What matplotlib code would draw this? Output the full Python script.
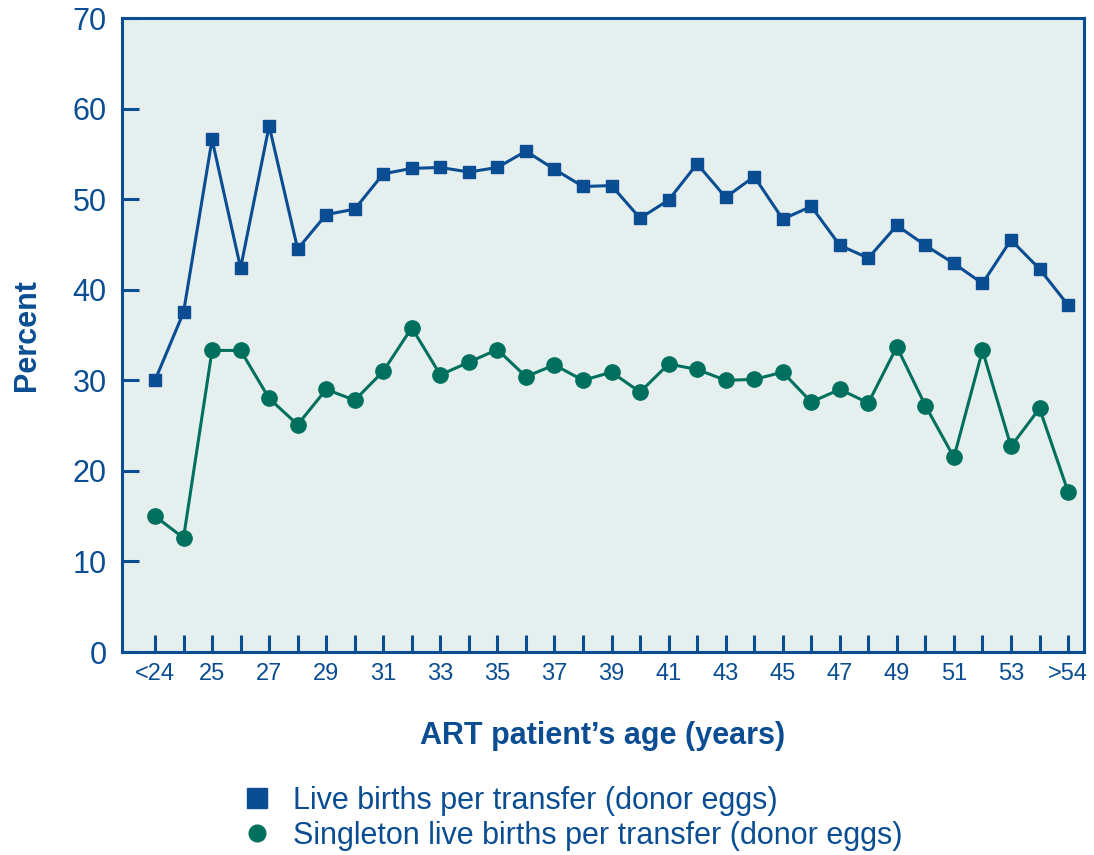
import matplotlib
matplotlib.use("Agg")
import matplotlib.pyplot as plt
from matplotlib.lines import Line2D

plt.rcParams['font.family'] = ['Liberation Sans', 'DejaVu Sans']

ages = ['<24', '24', '25', '26', '27', '28', '29', '30', '31', '32', '33',
        '34', '35', '36', '37', '38', '39', '40', '41', '42', '43', '44',
        '45', '46', '47', '48', '49', '50', '51', '52', '53', '54', '>54']

live_births = [30.0, 37.5, 56.6, 42.4, 58.1, 44.5, 48.3, 48.9, 52.8, 53.4, 53.5,
               53.0, 53.5, 55.3, 53.3, 51.4, 51.5, 47.9, 49.9, 53.9, 50.2, 52.5,
               47.8, 49.2, 44.9, 43.5, 47.1, 44.9, 42.9, 40.7, 45.5, 42.3, 38.3]

singleton = [15.0, 12.6, 33.3, 33.3, 28.0, 25.1, 29.0, 27.8, 31.0, 35.8, 30.6,
             32.0, 33.4, 30.4, 31.7, 30.0, 30.9, 28.7, 31.8, 31.2, 30.0, 30.1,
             30.9, 27.6, 29.0, 27.5, 33.7, 27.2, 21.5, 33.3, 22.7, 26.9, 17.7]

blue = '#0A4D92'
green = '#00705E'
bg = '#E5EFEE'

fig = plt.figure(figsize=(10.94, 8.55), dpi=100)
ax = fig.add_axes([0.1115, 0.2374, 0.8794, 0.7415])
ax.set_facecolor(bg)

x = list(range(len(ages)))
ax.plot(x, live_births, color=blue, lw=2.2, marker='s', ms=8.5, zorder=3)
ax.plot(x, singleton, color=green, lw=2.2, marker='o', ms=11, zorder=3)

ax.set_xlim(-1.157, 32.56)
ax.set_ylim(0, 70)
ax.set_yticks(range(0, 71, 10))
ax.set_xticks(x)
ax.set_xticklabels([a if i % 2 == 0 else '' for i, a in enumerate(ages)])

for s in ax.spines.values():
    s.set_color(blue)
    s.set_linewidth(2.2)

ax.tick_params(axis='y', direction='in', length=12, width=2.2, color=blue,
               labelcolor=blue, labelsize=22, pad=11)
ax.tick_params(axis='x', direction='in', length=12, width=2.2, color=blue,
               labelcolor=blue, labelsize=17, pad=8)

ax.set_xlabel('ART patient\u2019s age (years)', fontsize=22, fontweight='bold',
              color=blue, labelpad=26)
ax.set_ylabel('Percent', fontsize=22, fontweight='bold', color=blue, labelpad=22)

handles = [
    Line2D([], [], ls='none', marker='s', ms=14, color=blue),
    Line2D([], [], ls='none', marker='o', ms=12, color=green),
]
labels = ['Live births per transfer (donor eggs)',
          'Singleton live births per transfer (donor eggs)']
leg = fig.legend(handles, labels, loc='upper left', bbox_to_anchor=(0.21, 0.095),
                 frameon=False, fontsize=22, handlelength=1.0, handletextpad=0.67,
                 labelspacing=0.15, borderaxespad=0)
for t in leg.get_texts():
    t.set_color(blue)

fig.savefig('out.png', dpi=100)
